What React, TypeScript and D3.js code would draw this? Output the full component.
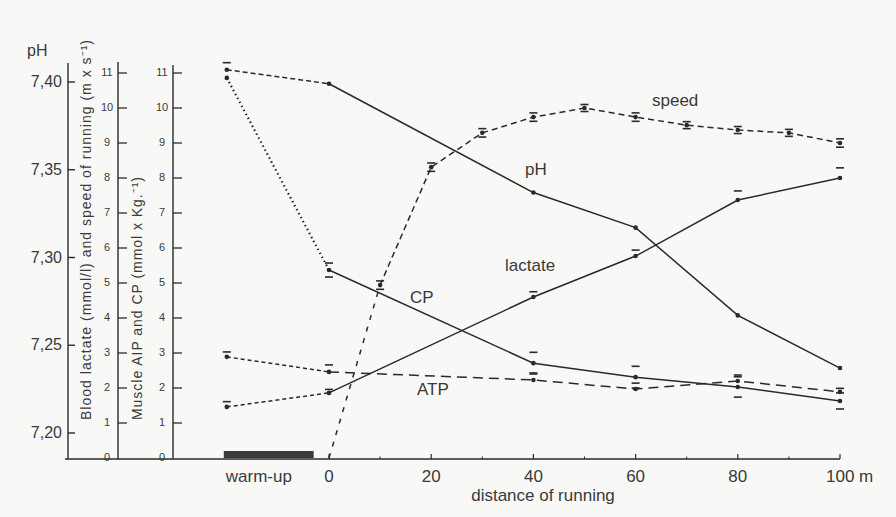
import React from "react";
import * as d3 from "d3";

// x positions: warm-up drawn at -20 m on the distance scale
const WARMUP = -20;

const pHDist = [WARMUP, 0, 40, 60, 80, 100];
const pHValues = [7.407, 7.399, 7.337, 7.317, 7.267, 7.237];
const pHErr = [0.004, 0, 0, 0, 0, 0];

const cpDist = [WARMUP, 0, 40, 60, 80, 100];
const cpValues = [10.86, 5.37, 2.71, 2.31, 2.03, 1.63];
const cpErr = [0, 0.2, 0.31, 0.31, 0.29, 0.23];

const lactateDist = [WARMUP, 0, 40, 60, 80, 100];
const lactateValues = [1.46, 1.86, 4.6, 5.77, 7.37, 8.0];
const lactateErr = [0.15, 0.1, 0.15, 0.17, 0.26, 0.29];

const atpDist = [WARMUP, 0, 40, 60, 80, 100];
const atpValues = [2.89, 2.46, 2.23, 1.97, 2.2, 1.89];
const atpErr = [0.14, 0.2, 0.2, 0.17, 0.17, 0.1];

const speedDist = [0, 10, 20, 30, 40, 50, 60, 70, 80, 90, 100];
const speedValues = [0, 4.94, 8.31, 9.29, 9.74, 10.0, 9.74, 9.51, 9.37, 9.29, 9.0];
const speedErr = [0, 0.12, 0.12, 0.12, 0.12, 0.1, 0.12, 0.1, 0.1, 0.1, 0.12];

const pHTicks = [7.2, 7.25, 7.3, 7.35, 7.4];
const unitTicks = d3.range(0, 12);
const xTicks = [0, 20, 40, 60, 80, 100];
const xTickLabels = ["0", "20", "40", "60", "80", "100 m"];
const xMinorTicks = [10, 30, 50, 70, 90];

const W = 896;
const H = 517;
const FONT = "'Liberation Sans', Arial, Helvetica, sans-serif";
const INK = "#2a2a2a";
const TXT = "#3a3a3a";

export default function App() {
  const x = d3.scaleLinear().domain([0, 100]).range([329, 840]);
  const yPH = d3.scaleLinear().domain([7.2, 7.4]).range([433, 82]);
  const yU = d3.scaleLinear().domain([0, 11]).range([458, 73]);
  const baseY = 459;

  const line = d3.line<[number, number]>().x(d => d[0]).y(d => d[1]);

  // build pts for a series
  const pts = (dist: number[], vals: number[], y: (v: number) => number) =>
    dist.map((d, i) => [x(d), y(vals[i])] as [number, number]);

  const pHPts = pts(pHDist, pHValues, yPH);
  const cpPts = pts(cpDist, cpValues, yU);
  const lacPts = pts(lactateDist, lactateValues, yU);
  const atpPts = pts(atpDist, atpValues, yU);
  const spdPts = pts(speedDist, speedValues, yU);

  const series = [
    { p: pHPts, warm: "5,3", ww: 1.5, rest: null },
    { p: cpPts, warm: "1.5,3", ww: 2.2, rest: null },
    { p: lacPts, warm: "4,3", ww: 1.5, rest: null },
    { p: atpPts, warm: "4,3", ww: 1.5, rest: "10,6" },
  ];

  const caps = (dist: number[], vals: number[], errs: number[], y: (v: number) => number, both = false) =>
    dist.flatMap((d, i) => {
      if (!errs[i]) return [];
      const cx = x(d);
      const out = [y(vals[i] + errs[i])];
      if (both) out.push(y(vals[i] - errs[i]));
      return out.map((cy, j) => (
        <line key={`${d}-${j}`} x1={cx - 4} x2={cx + 4} y1={cy} y2={cy} stroke={INK} strokeWidth={1.6} />
      ));
    });

  return (
    <svg width={W} height={H} style={{ position: "absolute", left: 0, top: 0 }} fontFamily={FONT}>
      <rect width={W} height={H} fill="#f8f8f7" />

      {/* pH axis */}
      <line x1={68} x2={68} y1={63} y2={baseY} stroke={INK} strokeWidth={1.4} />
      <text x={27} y={56} fontSize={16} fill={TXT}>pH</text>
      {pHTicks.map(t => (
        <g key={t}>
          <line x1={68} x2={75} y1={yPH(t)} y2={yPH(t)} stroke={INK} strokeWidth={1.4} />
          <text x={62} y={yPH(t) + 5} fontSize={16} textAnchor="end" fill={TXT}>
            {d3.format(".2f")(t).replace(".", ",")}
          </text>
        </g>
      ))}

      {/* lactate / speed axis */}
      <line x1={118} x2={118} y1={62} y2={baseY} stroke={INK} strokeWidth={1.4} />
      {/* muscle ATP / CP axis */}
      <line x1={173} x2={173} y1={65} y2={baseY} stroke={INK} strokeWidth={1.4} />
      {[118, 173].map(ax =>
        unitTicks.map(t => (
          <g key={`${ax}-${t}`}>
            {t > 0 && <line x1={ax} x2={ax + 9} y1={yU(t)} y2={yU(t)} stroke={INK} strokeWidth={1.3} />}
            <text x={ax - 11} y={yU(t) - 1} dy="0.35em" fontSize={11} textAnchor="middle" fill={TXT}>{t}</text>
          </g>
        ))
      )}

      <text transform="translate(91,420) rotate(-90)" fontSize={14} fill={TXT}
        textLength={380} lengthAdjust="spacing">
        Blood lactate (mmol/l) and speed of running (m x s⁻¹)
      </text>
      <text transform="translate(142,420) rotate(-90)" fontSize={14} fill={TXT}
        textLength={243} lengthAdjust="spacing">
        Muscle AIP and CP (mmol x Kg.⁻¹)
      </text>

      {/* baseline / distance axis */}
      <line x1={65} x2={840} y1={baseY} y2={baseY} stroke={INK} strokeWidth={1.6} />
      <rect x={x(WARMUP) - 3} y={451} width={x(-3) - x(WARMUP) + 3} height={7} fill="#3a3a3a" />
      {xTicks.map((t, i) => (
        <g key={t}>
          <line x1={x(t)} x2={x(t)} y1={baseY} y2={baseY - 5} stroke={INK} strokeWidth={1.2} />
          <text x={i === xTicks.length - 1 ? x(t) - 14 : x(t)} y={482} fontSize={17}
            textAnchor={i === xTicks.length - 1 ? "start" : "middle"} fill={TXT}>
            {xTickLabels[i]}
          </text>
        </g>
      ))}
      {xMinorTicks.map(t => (
        <line key={t} x1={x(t)} x2={x(t)} y1={baseY} y2={baseY - 2.5} stroke={INK} strokeWidth={1} />
      ))}
      <text x={x(WARMUP) + 32} y={482} fontSize={17} textAnchor="middle" fill={TXT}>warm-up</text>
      <text x={543} y={501} fontSize={17} textAnchor="middle" fill={TXT}>distance of running</text>

      {/* series */}
      {series.map((s, i) => (
        <g key={i} fill="none" stroke={INK} strokeWidth={1.5}>
          <path d={line(s.p.slice(0, 2)) || ""} strokeDasharray={s.warm} strokeWidth={s.ww} />
          <path d={line(s.p.slice(1)) || ""} strokeDasharray={s.rest || undefined} />
        </g>
      ))}
      <path d={line(spdPts.slice(0, 2)) || ""} fill="none" stroke={INK} strokeWidth={1.5} strokeDasharray="5,7" />
      <path d={line(spdPts.slice(1)) || ""} fill="none" stroke={INK} strokeWidth={1.5} strokeDasharray="6,4" />

      {[pHPts, cpPts, lacPts, atpPts, spdPts.slice(1)].map((p, i) =>
        p.map((d, j) => <circle key={`${i}-${j}`} cx={d[0]} cy={d[1]} r={2.3} fill={INK} />)
      )}

      {caps(pHDist, pHValues, pHErr, yPH)}
      {caps(cpDist, cpValues, cpErr, yU, true)}
      {caps(lactateDist, lactateValues, lactateErr, yU)}
      {caps(atpDist, atpValues, atpErr, yU)}
      {caps(speedDist, speedValues, speedErr, yU, true)}

      {/* series labels */}
      <text x={652} y={106} fontSize={17} fill={TXT}>speed</text>
      <text x={525} y={175} fontSize={17} fill={TXT}>pH</text>
      <text x={505} y={271} fontSize={17} fill={TXT}>lactate</text>
      <text x={410} y={303} fontSize={17} fill={TXT}>CP</text>
      <text x={417} y={395} fontSize={17} fill={TXT}>ATP</text>
    </svg>
  );
}
